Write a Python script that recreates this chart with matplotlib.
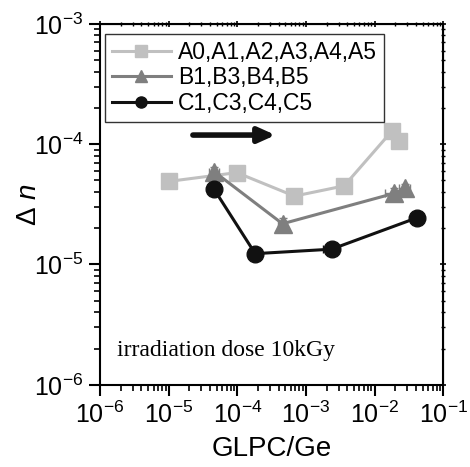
import matplotlib

matplotlib.use("Agg")

import matplotlib.pyplot as plt
from matplotlib.lines import Line2D
from matplotlib.ticker import LogLocator, NullFormatter

plt.rcParams["font.family"] = ["Liberation Sans", "DejaVu Sans"]
plt.rcParams["mathtext.fontset"] = "custom"
plt.rcParams["mathtext.rm"] = "Liberation Sans"
plt.rcParams["mathtext.it"] = "Liberation Sans:italic"

# series A (light gray squares)
a_x = [1.0e-5, 9.8e-5, 6.8e-4, 3.6e-3, 1.8e-2, 2.3e-2]
a_y = [4.9e-5, 5.8e-5, 3.7e-5, 4.5e-5, 1.29e-4, 1.07e-4]
a_yerr = [0.4e-5, 0.5e-5, 0.3e-5, 0.4e-5, 1.2e-5, 1.0e-5]
# series B (gray triangles)
b_x = [4.6e-5, 4.55e-4, 1.93e-2, 2.8e-2]
b_y = [5.9e-5, 2.18e-5, 3.9e-5, 4.3e-5]
b_xerr = [0.8e-5, 0.6e-4, 0.5e-2, 0.5e-2]
b_yerr = [0.5e-5, 0.25e-5, 0.4e-5, 0.4e-5]
# series C (black circles)
c_x = [4.6e-5, 1.82e-4, 2.36e-3, 4.2e-2]
c_y = [4.2e-5, 1.23e-5, 1.34e-5, 2.45e-5]
c_xerr = [0.8e-5, 0.4e-4, 0.6e-3, 0.5e-2]
c_yerr = [0.3e-5, 0.1e-5, 0.1e-5, 0.2e-5]

labels = ["A0,A1,A2,A3,A4,A5", "B1,B3,B4,B5", "C1,C3,C4,C5"]
colours = ["#c0c0c0", "#7f7f7f", "#111111"]
markers = ["s", "^", "o"]

fig = plt.figure(figsize=(4.7, 4.67), dpi=100)
ax = fig.add_axes([0.213, 0.176, 0.730, 0.773])

ax.errorbar(a_x, a_y, yerr=a_yerr, color=colours[0], marker="s", ms=11, lw=2.2,
            capsize=3, elinewidth=1, zorder=2)
ax.errorbar(b_x, b_y, xerr=b_xerr, yerr=b_yerr, color=colours[1], marker="^", ms=13,
            lw=2.2, capsize=3, elinewidth=1, zorder=3)
ax.errorbar(c_x, c_y, xerr=c_xerr, yerr=c_yerr, color=colours[2], marker="o", ms=12,
            lw=2.2, capsize=3, elinewidth=1, zorder=4)

ax.set_xscale("log")
ax.set_yscale("log")
ax.set_xlim(1e-6, 1e-1)
ax.set_ylim(1e-6, 1e-3)

for axis in (ax.xaxis, ax.yaxis):
    axis.set_major_locator(LogLocator(base=10, numticks=10))
    axis.set_minor_locator(LogLocator(base=10, subs=range(2, 10), numticks=10))
    axis.set_minor_formatter(NullFormatter())

ax.tick_params(which="major", direction="out", length=8, width=1.5, labelsize=18, pad=4)
ax.tick_params(which="minor", direction="out", length=4, width=1.2)
for side in ax.spines.values():
    side.set_linewidth(1.5)

# small ticks on top and right
top = ax.secondary_xaxis("top")
right = ax.secondary_yaxis("right")
top.tick_params(which="major", direction="inout", length=5, width=1.2, labeltop=False)
top.tick_params(which="minor", direction="inout", length=3, width=1)
right.tick_params(which="major", direction="inout", length=5, width=1.2, labelright=False)
right.tick_params(which="minor", direction="inout", length=3, width=1)

ax.set_xlabel("GLPC/Ge", fontsize=20, labelpad=6)
ax.set_ylabel(r"$\Delta\ \mathit{n}$", fontsize=20)
ax.yaxis.set_label_coords(-0.17, 0.5)

handles = [Line2D([], [], color=c, marker=m, ms=8, lw=2.2) for c, m in zip(colours, markers)]
leg = ax.legend(handles, labels, loc="upper left", bbox_to_anchor=(0.0, 0.985), fontsize=16.5,
                handlelength=2.6, handletextpad=0.3, borderpad=0.3, labelspacing=0.12,
                fancybox=False, frameon=True, borderaxespad=0.2)
leg.get_frame().set_edgecolor("black")
leg.get_frame().set_linewidth(1.0)

ax.annotate("", xy=(3.6e-4, 1.19e-4), xytext=(2.25e-5, 1.19e-4),
            arrowprops=dict(arrowstyle="-|>,head_length=1.0,head_width=0.45",
                            color="#111111", lw=4, shrinkA=0, shrinkB=0))

ax.text(1.75e-6, 1.75e-6, "irradiation dose 10kGy", family="Liberation Serif",
        fontsize=17)

fig.savefig("out.png", dpi=100)
